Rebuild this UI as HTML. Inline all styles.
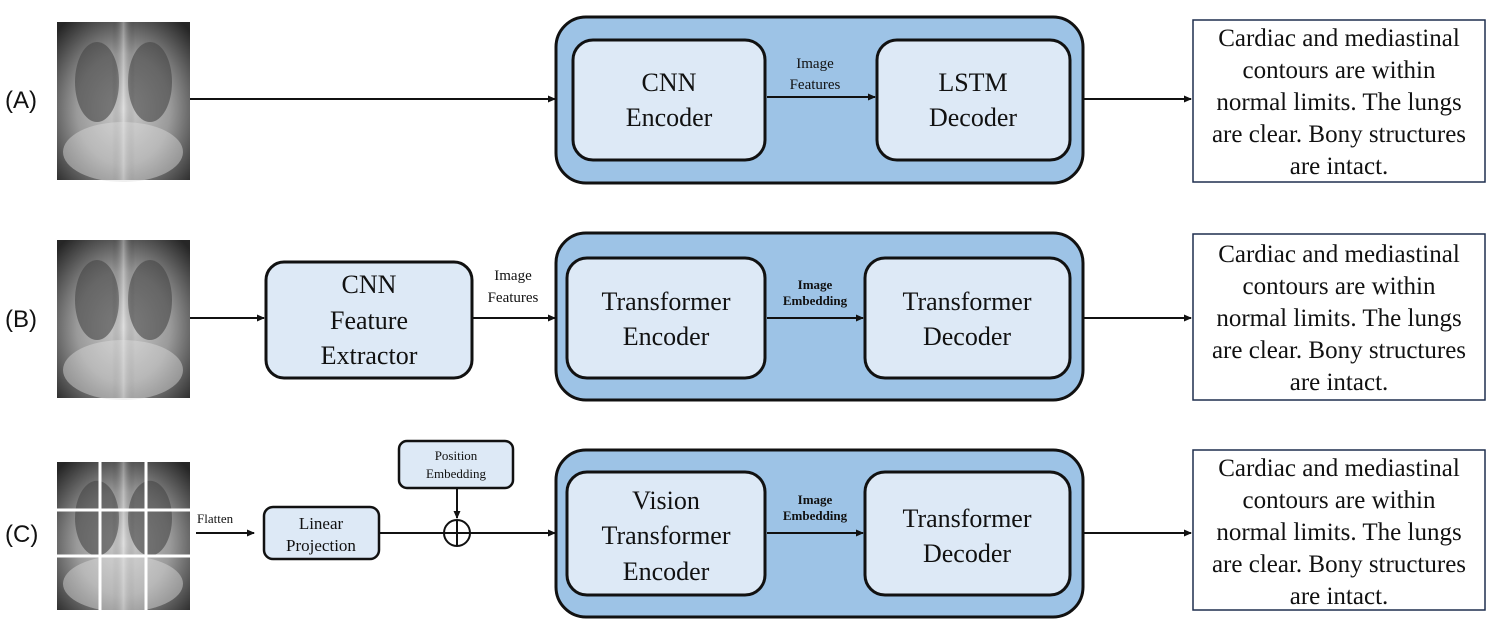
<!DOCTYPE html>
<html><head><meta charset="utf-8"><style>
html,body{margin:0;padding:0;background:#fff;}
svg{display:block}
.s{font-family:"Liberation Serif",serif;fill:#111;}
.l{font-family:"Liberation Sans",sans-serif;font-size:24px;fill:#111;}
</style></head><body>
<svg width="1495" height="630" viewBox="0 0 1495 630" xmlns="http://www.w3.org/2000/svg">
<defs>
<marker id="a" markerWidth="8" markerHeight="8" refX="7" refY="4" orient="auto" markerUnits="userSpaceOnUse"><path d="M0,0.5 L8,4 L0,7.5 z" fill="#111"/></marker>
<radialGradient id="x" cx="0.5" cy="0.55" r="0.7">
<stop offset="0" stop-color="#cfcfcf"/><stop offset="0.5" stop-color="#9a9a9a"/><stop offset="1" stop-color="#262626"/></radialGradient>
<linearGradient id="sp" x1="0" x2="1"><stop offset="0" stop-color="#000" stop-opacity="0"/><stop offset="0.5" stop-color="#fff" stop-opacity="0.35"/><stop offset="1" stop-color="#000" stop-opacity="0"/></linearGradient>
<g id="xr">
<rect x="0" y="0" width="133" height="158" fill="url(#x)"/>
<ellipse cx="40" cy="60" rx="22" ry="40" fill="#444" opacity="0.6"/>
<ellipse cx="93" cy="60" rx="22" ry="40" fill="#444" opacity="0.6"/>
<rect x="55" y="0" width="23" height="158" fill="url(#sp)"/>
<ellipse cx="66" cy="130" rx="60" ry="30" fill="#ddd" opacity="0.45"/>
</g>
</defs>

<text class="l" x="5" y="108">(A)</text>
<text class="l" x="5" y="327">(B)</text>
<text class="l" x="5" y="542">(C)</text>

<!-- Row A -->
<use href="#xr" x="57" y="22"/>
<line x1="190" y1="99" x2="555" y2="99" stroke="#111" stroke-width="2" marker-end="url(#a)"/>
<rect x="556" y="17" width="527" height="166" rx="30" fill="#9dc3e6" stroke="#111" stroke-width="3"/>
<rect x="573" y="40" width="192" height="120" rx="20" fill="#dde9f6" stroke="#111" stroke-width="3"/>
<rect x="877" y="40" width="193" height="120" rx="20" fill="#dde9f6" stroke="#111" stroke-width="3"/>
<text class="s" font-size="26" text-anchor="middle" x="669" y="91">CNN</text>
<text class="s" font-size="26" text-anchor="middle" x="669" y="126">Encoder</text>
<text class="s" font-size="26" text-anchor="middle" x="973" y="91">LSTM</text>
<text class="s" font-size="26" text-anchor="middle" x="973" y="126">Decoder</text>
<line x1="767" y1="97" x2="875" y2="97" stroke="#111" stroke-width="2" marker-end="url(#a)"/>
<text class="s" font-size="15" text-anchor="middle" x="815" y="68">Image</text>
<text class="s" font-size="15" text-anchor="middle" x="815" y="89">Features</text>
<line x1="1083" y1="99" x2="1191" y2="99" stroke="#111" stroke-width="2" marker-end="url(#a)"/>
<rect x="1193" y="20" width="292" height="162" fill="#fff" stroke="#1f2f4f" stroke-width="1.5"/>
<g class="s" font-size="25" text-anchor="middle">
<text x="1339" y="46">Cardiac and mediastinal</text>
<text x="1339" y="78">contours are within</text>
<text x="1339" y="110">normal limits. The lungs</text>
<text x="1339" y="142">are clear. Bony structures</text>
<text x="1339" y="174">are intact.</text>
</g>

<!-- Row B -->
<use href="#xr" x="57" y="240"/>
<line x1="190" y1="318" x2="264" y2="318" stroke="#111" stroke-width="2" marker-end="url(#a)"/>
<rect x="266" y="262" width="206" height="116" rx="18" fill="#dde9f6" stroke="#111" stroke-width="3"/>
<text class="s" font-size="26" text-anchor="middle" x="369" y="293">CNN</text>
<text class="s" font-size="26" text-anchor="middle" x="369" y="329">Feature</text>
<text class="s" font-size="26" text-anchor="middle" x="369" y="364">Extractor</text>
<line x1="472" y1="318" x2="555" y2="318" stroke="#111" stroke-width="2" marker-end="url(#a)"/>
<text class="s" font-size="15" text-anchor="middle" x="513" y="280">Image</text>
<text class="s" font-size="15" text-anchor="middle" x="513" y="302">Features</text>
<rect x="556" y="233" width="527" height="167" rx="30" fill="#9dc3e6" stroke="#111" stroke-width="3"/>
<rect x="567" y="258" width="198" height="120" rx="20" fill="#dde9f6" stroke="#111" stroke-width="3"/>
<rect x="865" y="258" width="205" height="120" rx="20" fill="#dde9f6" stroke="#111" stroke-width="3"/>
<text class="s" font-size="26" text-anchor="middle" x="666" y="310">Transformer</text>
<text class="s" font-size="26" text-anchor="middle" x="666" y="345">Encoder</text>
<text class="s" font-size="26" text-anchor="middle" x="967" y="310">Transformer</text>
<text class="s" font-size="26" text-anchor="middle" x="967" y="345">Decoder</text>
<line x1="767" y1="318" x2="863" y2="318" stroke="#111" stroke-width="2" marker-end="url(#a)"/>
<text class="s" font-size="13" font-weight="bold" text-anchor="middle" x="815" y="289">Image</text>
<text class="s" font-size="13" font-weight="bold" text-anchor="middle" x="815" y="305">Embedding</text>
<line x1="1083" y1="318" x2="1191" y2="318" stroke="#111" stroke-width="2" marker-end="url(#a)"/>
<rect x="1193" y="234" width="292" height="166" fill="#fff" stroke="#1f2f4f" stroke-width="1.5"/>
<g class="s" font-size="25" text-anchor="middle">
<text x="1339" y="262">Cardiac and mediastinal</text>
<text x="1339" y="294">contours are within</text>
<text x="1339" y="326">normal limits. The lungs</text>
<text x="1339" y="358">are clear. Bony structures</text>
<text x="1339" y="390">are intact.</text>
</g>

<!-- Row C -->
<svg x="57" y="462" width="133" height="148" viewBox="0 0 133 158" preserveAspectRatio="none"><use href="#xr"/></svg>
<line x1="100" y1="462" x2="100" y2="610" stroke="#fff" stroke-width="3"/>
<line x1="146" y1="462" x2="146" y2="610" stroke="#fff" stroke-width="3"/>
<line x1="57" y1="510" x2="190" y2="510" stroke="#fff" stroke-width="3"/>
<line x1="57" y1="556" x2="190" y2="556" stroke="#fff" stroke-width="3"/>
<text class="s" font-size="13" x="197" y="523">Flatten</text>
<line x1="196" y1="533" x2="254" y2="533" stroke="#111" stroke-width="2" marker-end="url(#a)"/>
<rect x="264" y="507" width="115" height="52" rx="9" fill="#dde9f6" stroke="#111" stroke-width="2.5"/>
<text class="s" font-size="17" text-anchor="middle" x="321" y="529">Linear</text>
<text class="s" font-size="17" text-anchor="middle" x="321" y="551">Projection</text>
<rect x="399" y="441" width="114" height="47" rx="8" fill="#dde9f6" stroke="#111" stroke-width="2.5"/>
<text class="s" font-size="13" text-anchor="middle" x="456" y="460">Position</text>
<text class="s" font-size="13" text-anchor="middle" x="456" y="478">Embedding</text>
<line x1="457" y1="488" x2="457" y2="518" stroke="#111" stroke-width="2" marker-end="url(#a)"/>
<line x1="380" y1="533" x2="555" y2="533" stroke="#111" stroke-width="2" marker-end="url(#a)"/>
<circle cx="457" cy="533" r="13" fill="none" stroke="#111" stroke-width="2"/>
<line x1="457" y1="520" x2="457" y2="546" stroke="#111" stroke-width="2"/>
<rect x="556" y="450" width="527" height="167" rx="30" fill="#9dc3e6" stroke="#111" stroke-width="3"/>
<rect x="567" y="472" width="198" height="123" rx="20" fill="#dde9f6" stroke="#111" stroke-width="3"/>
<rect x="865" y="472" width="205" height="123" rx="20" fill="#dde9f6" stroke="#111" stroke-width="3"/>
<text class="s" font-size="26" text-anchor="middle" x="666" y="509">Vision</text>
<text class="s" font-size="26" text-anchor="middle" x="666" y="544">Transformer</text>
<text class="s" font-size="26" text-anchor="middle" x="666" y="580">Encoder</text>
<text class="s" font-size="26" text-anchor="middle" x="967" y="527">Transformer</text>
<text class="s" font-size="26" text-anchor="middle" x="967" y="562">Decoder</text>
<line x1="767" y1="533" x2="863" y2="533" stroke="#111" stroke-width="2" marker-end="url(#a)"/>
<text class="s" font-size="13" font-weight="bold" text-anchor="middle" x="815" y="504">Image</text>
<text class="s" font-size="13" font-weight="bold" text-anchor="middle" x="815" y="520">Embedding</text>
<line x1="1083" y1="533" x2="1191" y2="533" stroke="#111" stroke-width="2" marker-end="url(#a)"/>
<rect x="1193" y="450" width="292" height="160" fill="#fff" stroke="#1f2f4f" stroke-width="1.5"/>
<g class="s" font-size="25" text-anchor="middle">
<text x="1339" y="476">Cardiac and mediastinal</text>
<text x="1339" y="508">contours are within</text>
<text x="1339" y="540">normal limits. The lungs</text>
<text x="1339" y="572">are clear. Bony structures</text>
<text x="1339" y="604">are intact.</text>
</g>
</svg>
</body></html>
